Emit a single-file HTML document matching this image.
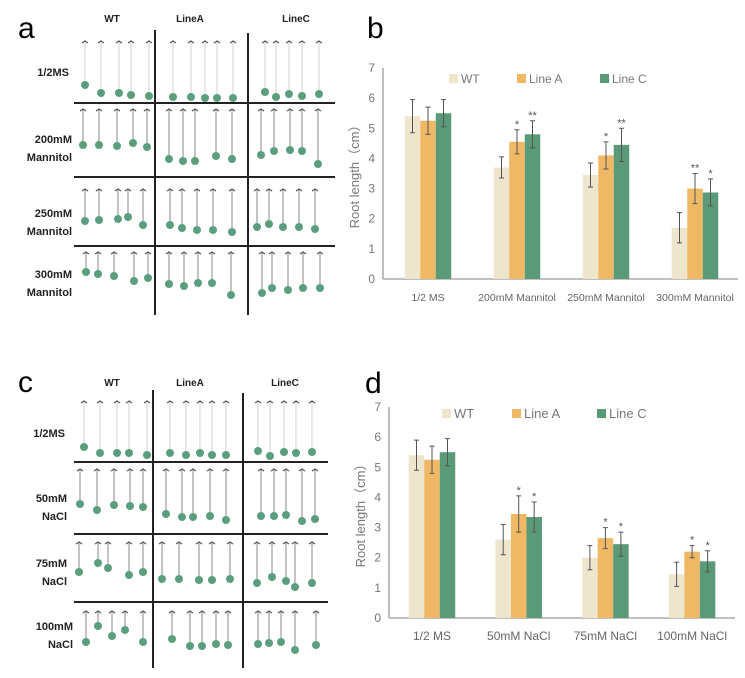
<!DOCTYPE html>
<html><head><meta charset="utf-8"><style>
html,body{margin:0;padding:0;background:#fff;}
svg{display:block;font-family:"Liberation Sans",sans-serif;}
</style></head><body>
<svg id="fig" width="745" height="678" viewBox="0 0 745 678"></svg>
<script>
// ---- Chart b data ----
const catsB = ['1/2 MS','200mM Mannitol','250mM Mannitol','300mM Mannitol'];
const wtB = [5.4, 3.7, 3.45, 1.7];
const aB = [5.25, 4.55, 4.1, 3.0];
const cB = [5.5, 4.8, 4.45, 2.87];
const wtErrB = [0.55, 0.35, 0.4, 0.5];
const aErrB = [0.45, 0.4, 0.45, 0.5];
const cErrB = [0.45, 0.45, 0.55, 0.45];
const aStarB = ['', '*', '*', '**'];
const cStarB = ['', '**', '**', '*'];
// ---- Chart d data ----
const catsD = ['1/2 MS','50mM NaCl','75mM NaCl','100mM NaCl'];
const wtD = [5.4, 2.6, 2.0, 1.45];
const aD = [5.25, 3.45, 2.65, 2.2];
const cD = [5.5, 3.35, 2.45, 1.88];
const wtErrD = [0.5, 0.5, 0.4, 0.4];
const aErrD = [0.45, 0.6, 0.35, 0.2];
const cErrD = [0.45, 0.5, 0.4, 0.35];
const aStarD = ['', '*', '*', '*'];
const cStarD = ['', '*', '*', '*'];
const yTicks = [0,1,2,3,4,5,6,7];
const seriesNames = ['WT','Line A','Line C'];

const NS='http://www.w3.org/2000/svg';
const svg=document.getElementById('fig');
function mk(tag,attrs,parent){const e=document.createElementNS(NS,tag);for(const k in attrs)e.setAttribute(k,attrs[k]);(parent||svg).appendChild(e);return e;}
function txt(s,attrs,parent){const e=mk('text',attrs,parent);e.textContent=s;return e;}
const colors=['#ede5cc','#efb865','#5a9a78'];

function chart(o){
  const g=mk('g',{});
  
  
  const y=v=>o.y0-(v/7)*(o.y0-o.y7);
  const x=i=>o.cx0+i*o.step;
  mk('line',{x1:o.ax,y1:o.y7,x2:o.ax,y2:o.y0,stroke:'#9a9a9a','stroke-width':1.3},g);
  mk('line',{x1:o.ax,y1:o.y0,x2:o.axEnd,y2:o.y0,stroke:'#9a9a9a','stroke-width':1.3},g);
  yTicks.forEach(t=>{const e=txt(String(t),{x:o.ax-8,y:y(t)+4,'text-anchor':'end','font-size':12,fill:'#777'},g);
    });
  const yt=txt('Root length（cm）',{x:0,y:0,'text-anchor':'middle','font-size':13,fill:'#777',transform:`translate(${o.ax-24},${(o.y0+o.y7)/2}) rotate(-90)`},g);
  
  const series=[[o.wt,o.wtE,null],[o.a,o.aE,o.aS],[o.c,o.cE,o.cS]];
  o.cats.forEach((c,i)=>{
    const l=txt(c,{x:x(i),y:o.y0+22,'text-anchor':'middle','font-size':o.xFs,fill:'#666'},g);
    
    series.forEach((s,k)=>{
      const cx=x(i)+(k-1)*o.bw;
      const r=mk('rect',{x:cx-o.bw/2,y:y(s[0][i]),width:o.bw,height:o.y0-y(s[0][i]),fill:colors[k]},g);
      
      
      const top=y(s[0][i]+s[1][i]),bot=y(s[0][i]-s[1][i]);
      mk('path',{d:`M${cx} ${top}V${bot}M${cx-2.5} ${top}H${cx+2.5}M${cx-2.5} ${bot}H${cx+2.5}`,stroke:'#555','stroke-width':1,fill:'none'},g);
      if(s[2]&&s[2][i]){const st=txt(s[2][i],{x:cx,y:top-2,'text-anchor':'middle','font-size':11,fill:'#555'},g);
        }
    });
  });
  seriesNames.forEach((n,k)=>{
    const lx=o.legX[k];
    const lg=mk('g',{},g);
    mk('rect',{x:lx,y:o.legY-5,width:9,height:9,fill:colors[k]},lg);
    txt(n,{x:lx+12,y:o.legY+4,'font-size':o.legFs,fill:'#777'},lg);
  });
}
chart({name:'chart-b',cats:catsB,wt:wtB,a:aB,c:cB,wtE:wtErrB,aE:aErrB,cE:cErrB,aS:aStarB,cS:cStarB,
  ax:383,axEnd:738,y0:279,y7:68,cx0:428,step:89,bw:15.5,legX:[449,517,600],legY:79,legFs:12,xFs:10.5});
chart({name:'chart-d',cats:catsD,wt:wtD,a:aD,c:cD,wtE:wtErrD,aE:aErrD,cE:cErrD,aS:aStarD,cS:cStarD,
  ax:389,axEnd:735,y0:618,y7:407,cx0:432,step:86.7,bw:15.5,legX:[442,512,597],legY:414,legFs:13,xFs:12});

// panel letters
[['a',18,38],['b',367,38],['c',18,392],['d',365,393]].forEach(p=>{
  const e=txt(p[0],{x:p[1],y:p[2],'font-size':30,fill:'#000'});
  
});

// ---- seedling photo panels ----
const rowsA=[
 {top:42,cells:[[[85,101,119,131,149],[85,93,93,95,96]],[[173,191,205,217,233],[97,97,98,98,98]],[[265,276,289,302,319],[92,97,94,96,94]]]},
 {top:110,cells:[[[83,99,117,133,147],[145,145,146,143,147]],[[169,183,195,216,232],[159,161,161,156,159]],[[261,274,290,302,318],[155,151,150,151,164]]]},
 {top:190,cells:[[[85,99,118,128,143],[221,220,219,217,225]],[[170,182,197,213,232],[225,228,230,230,232]],[[257,269,283,299,315],[227,224,227,227,229]]]},
 {top:253,cells:[[[86,98,114,134,148],[272,274,276,281,278]],[[169,184,198,212,231],[284,286,283,283,295]],[[262,272,288,303,320],[293,288,290,288,288]]]}];
const rowsC=[
 {top:402,cells:[[[84,100,117,129,147],[447,453,453,453,455]],[[170,186,200,212,226],[453,455,453,455,455]],[[258,270,284,296,312],[451,456,452,453,452]]]},
 {top:470,cells:[[[80,97,114,130,143],[504,510,505,506,507]],[[166,182,193,210,226],[514,517,517,516,520]],[[261,274,286,302,315],[516,516,515,521,519]]]},
 {top:543,cells:[[[79,98,108,129,143],[572,563,568,575,572]],[[162,179,199,212,230],[579,579,580,580,579]],[[257,272,286,295,312],[583,577,581,587,583]]]},
 {top:612,cells:[[[86,98,112,125,143],[642,626,636,630,642]],[[172,190,202,216,228],[639,646,646,644,645]],[[258,269,281,295,316],[644,643,642,650,645]]]}];

function photo(o){
  const g=mk('g',{});
  o.rows.forEach((r,ri)=>{
    r.cells.forEach(c=>{
      c[0].forEach((px,j)=>{
        const py=c[1][j];
        const dark=ri>0?'#888':'#c4c4c4';
        mk('line',{x1:px,y1:r.top,x2:px,y2:py-4,stroke:dark,'stroke-width':ri>0?1:0.8},g);
        mk('path',{d:`M${px-3} ${r.top+1}L${px} ${r.top-1}L${px+3} ${r.top+1}`,stroke:'#555','stroke-width':1.2,fill:'none'},g);
        mk('circle',{cx:px,cy:py,r:4,fill:'#5a9e7f'},g);
      });
    });
  });
  o.vl.forEach(v=>mk('line',{x1:v[0],y1:v[1],x2:v[0],y2:v[2],stroke:'#222','stroke-width':2},g));
  o.hl.forEach(h=>mk('line',{x1:o.hx[0],y1:h,x2:o.hx[1],y2:h,stroke:'#222','stroke-width':2},g));
  o.cols.forEach(c=>{const e=txt(c[0],{x:c[1],y:o.colY,'text-anchor':'middle','font-size':10,'font-weight':'bold',fill:'#222'},g);
    });
  o.labels.forEach(l=>{l[0].forEach((s,k)=>{const e=txt(s,{x:l[2]+0,y:l[1]+k*18,'text-anchor':'end','font-size':11,'font-weight':'bold',fill:'#222'},g);
    });});
}
photo({name:'photo-panel-a',rows:rowsA,vl:[[155,30,315],[248,33,315]],hl:[103,177,246],hx:[74,335],colY:22,
  cols:[['WT',112],['LineA',190],['LineC',296]],
  labels:[[['1/2MS'],76,69],[['200mM','Mannitol'],143,72],[['250mM','Mannitol'],217,72],[['300mM','Mannitol'],278,72]]});
photo({name:'photo-panel-c',rows:rowsC,vl:[[153,390,668],[243,393,668]],hl:[462,534,602],hx:[74,328],colY:386,
  cols:[['WT',112],['LineA',190],['LineC',285]],
  labels:[[['1/2MS'],437,65],[['50mM','NaCl'],502,67],[['75mM','NaCl'],567,67],[['100mM','NaCl'],630,73]]});
</script>
</body></html>
